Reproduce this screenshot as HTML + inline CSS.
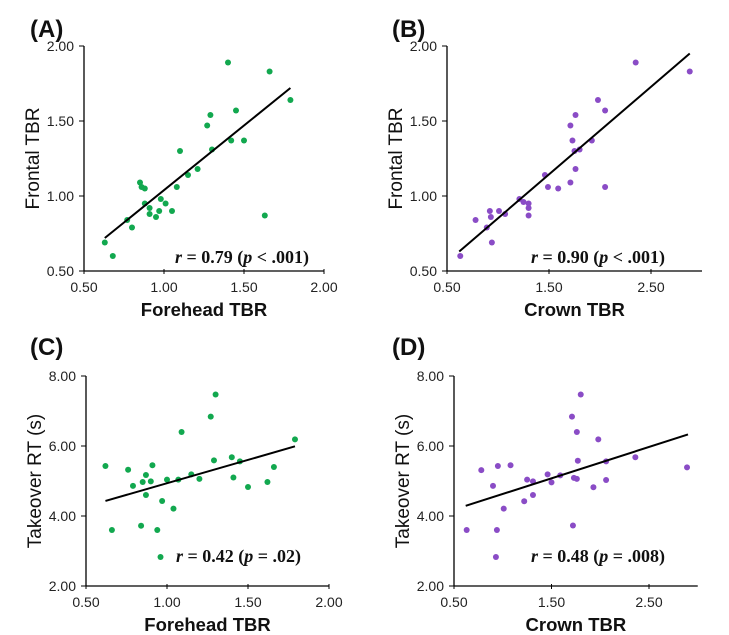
<!DOCTYPE html>
<html><head><meta charset="utf-8">
<style>
body{margin:0;background:#fff;}
svg{display:block;font-family:"Liberation Sans",Arial,sans-serif;}
.tick{font-size:14px;fill:#222;}
.ytitle{font-size:19px;fill:#111;}
.xtitle{font-size:18.5px;font-weight:bold;fill:#111;}
.plabel{font-size:24px;font-weight:bold;fill:#111;}
.ann{font-family:"Liberation Serif",serif;font-size:18px;font-weight:bold;fill:#111;}
</style></head>
<body>
<svg id="chart" width="729" height="635" viewBox="0 0 729 635" xmlns="http://www.w3.org/2000/svg"></svg>
<script>
// Panel A: Forehead TBR vs Frontal TBR
const aX = [1.40,1.66,1.79,1.45,1.29,1.27,1.10,1.30,1.42,1.50,1.21,1.15,1.08,0.85,0.86,0.88,0.88,0.91,0.98,1.01,0.91,0.97,0.95,1.05,0.77,0.80,0.63,0.68,1.63];
const aY = [1.89,1.83,1.64,1.57,1.54,1.47,1.30,1.31,1.37,1.37,1.18,1.14,1.06,1.09,1.06,1.05,0.95,0.92,0.98,0.95,0.88,0.90,0.86,0.90,0.84,0.79,0.69,0.60,0.87];
const aLine = [0.63,0.72,1.79,1.72];
// Panel B: Crown TBR vs Frontal TBR
const bX = [2.35,2.88,1.98,2.05,1.76,1.71,1.73,1.92,1.75,1.80,1.76,1.46,1.49,1.59,1.71,2.05,1.21,1.25,1.30,1.30,1.30,1.01,1.07,0.92,0.93,0.78,0.89,0.94,0.63];
const bY = [1.89,1.83,1.64,1.57,1.54,1.47,1.37,1.37,1.30,1.31,1.18,1.14,1.06,1.05,1.09,1.06,0.98,0.96,0.95,0.92,0.87,0.90,0.88,0.90,0.86,0.84,0.79,0.69,0.60];
const bLine = [0.62,0.63,2.88,1.95];
// Panel C: Forehead TBR vs Takeover RT
const cX = [1.30,1.27,1.09,1.79,0.62,0.76,0.91,0.87,0.85,0.90,0.79,1.00,1.07,1.15,1.20,1.29,1.40,1.45,1.41,1.66,1.62,1.50,0.87,0.97,1.04,0.66,0.84,0.94,0.96];
const cY = [7.47,6.84,6.40,6.19,5.43,5.32,5.45,5.17,4.97,4.99,4.86,5.04,5.04,5.19,5.06,5.59,5.68,5.56,5.10,5.40,4.97,4.83,4.60,4.43,4.21,3.60,3.72,3.60,2.83];
const cLine = [0.62,4.43,1.79,5.99];
// Panel D: Crown TBR vs Takeover RT
const dX = [1.80,1.71,1.76,1.98,2.36,2.89,1.77,2.06,0.78,0.95,1.08,0.90,1.25,1.31,1.46,1.50,1.59,1.73,1.76,1.93,2.06,1.31,1.22,1.01,0.63,0.94,0.93,1.72];
const dY = [7.47,6.84,6.40,6.19,5.68,5.39,5.58,5.56,5.31,5.43,5.45,4.86,5.04,4.99,5.19,4.96,5.16,5.09,5.06,4.82,5.03,4.60,4.42,4.21,3.60,3.60,2.83,3.73];
const dLine = [0.62,4.29,2.90,6.33];
const xTicksA = ["0.50","1.00","1.50","2.00"];
const xTicksB = ["0.50","1.50","2.50"];
const yTicksTop = ["0.50","1.00","1.50","2.00"];
const yTicksBot = ["2.00","4.00","6.00","8.00"];

const NS="http://www.w3.org/2000/svg";
const svg=document.getElementById('chart');
function mk(tag,attrs,parent){const e=document.createElementNS(NS,tag);for(const k in attrs)e.setAttribute(k,attrs[k]);(parent||svg).appendChild(e);return e;}

const panels=[
 {id:'a',lab:'(A)',X:aX,Y:aY,L:aLine,xt:xTicksA,yt:yTicksTop,x0:84,xs:160,xmin:0.5,xmax:2.0,yb:271,ys:150,ymin:0.5,ymax:2.0,col:'#12a84f',xtitle:'Forehead TBR',ytitle:'Frontal TBR',ann:['0.79','<',' .001'],annX:175,annY:263,labX:30,labY:37},
 {id:'b',lab:'(B)',X:bX,Y:bY,L:bLine,xt:xTicksB,yt:yTicksTop,x0:447,xs:102,xmin:0.5,xmax:3.0,yb:271,ys:150,ymin:0.5,ymax:2.0,col:'#8a4cc6',xtitle:'Crown TBR',ytitle:'Frontal TBR',ann:['0.90','<',' .001'],annX:531,annY:263,labX:392,labY:37},
 {id:'c',lab:'(C)',X:cX,Y:cY,L:cLine,xt:xTicksA,yt:yTicksBot,x0:86,xs:162,xmin:0.5,xmax:2.0,yb:586,ys:35,ymin:2,ymax:8,col:'#12a84f',xtitle:'Forehead TBR',ytitle:'Takeover RT (s)',ann:['0.42','=',' .02'],annX:176,annY:562,labX:30,labY:355},
 {id:'d',lab:'(D)',X:dX,Y:dY,L:dLine,xt:xTicksB,yt:yTicksBot,x0:454,xs:97.5,xmin:0.5,xmax:3.0,yb:586,ys:35,ymin:2,ymax:8,col:'#8a4cc6',xtitle:'Crown TBR',ytitle:'Takeover RT (s)',ann:['0.48','=',' .008'],annX:531,annY:562,labX:392,labY:355}
];

panels.forEach(p=>{
 const sx=v=>p.x0+(v-p.xmin)*p.xs;
 const sy=v=>p.yb-(v-p.ymin)*p.ys;
 const g=mk('g',{});
 
 
 const lab=mk('text',{x:p.labX,y:p.labY,class:'plabel'},g);lab.textContent=p.lab;
 
 
 const x1=sx(p.xmax), yTop=sy(p.ymax);
 const xa=mk('line',{x1:p.x0,y1:p.yb,x2:x1,y2:p.yb,stroke:'#000','stroke-width':1.3},g);
 
 
 const ya=mk('line',{x1:p.x0,y1:p.yb,x2:p.x0,y2:yTop,stroke:'#000','stroke-width':1.3},g);
 
 
 p.xt.forEach(t=>{
  const x=sx(parseFloat(t));
  mk('line',{x1:x,y1:p.yb-2,x2:x,y2:p.yb+3,stroke:'#000','stroke-width':1},g);
  const tx=mk('text',{x:x,y:p.yb+21,'text-anchor':'middle',class:'tick'},g);tx.textContent=t;
  
  
 });
 p.yt.forEach(t=>{
  const y=sy(parseFloat(t));
  mk('line',{x1:p.x0-5,y1:y,x2:p.x0,y2:y,stroke:'#000','stroke-width':1},g);
  const tx=mk('text',{x:p.x0-10,y:y+5,'text-anchor':'end',class:'tick'},g);tx.textContent=t;
  
  
 });
 const xt=mk('text',{x:(p.x0+x1)/2,y:p.yb+45,'text-anchor':'middle',class:'xtitle'},g);xt.textContent=p.xtitle;
 
 
 const cy=(p.yb+yTop)/2, cx=p.x0-45;
 const yt=mk('text',{x:cx,y:cy,'text-anchor':'middle',class:'ytitle',transform:`rotate(-90 ${cx} ${cy})`},g);yt.textContent=p.ytitle;
 
 
 p.X.forEach((v,i)=>{
  const c=mk('circle',{cx:sx(v),cy:sy(p.Y[i]),r:3,fill:p.col},g);
  
  
 });
 const rl=mk('line',{x1:sx(p.L[0]),y1:sy(p.L[1]),x2:sx(p.L[2]),y2:sy(p.L[3]),stroke:'#000','stroke-width':2},g);
 
 
 const an=mk('text',{x:p.annX,y:p.annY,class:'ann'},g);
 an.innerHTML=`<tspan font-style="italic">r</tspan> = ${p.ann[0]} (<tspan font-style="italic">p</tspan> ${p.ann[1]}${p.ann[2]})`;
 
 
});
</script>
</body></html>
